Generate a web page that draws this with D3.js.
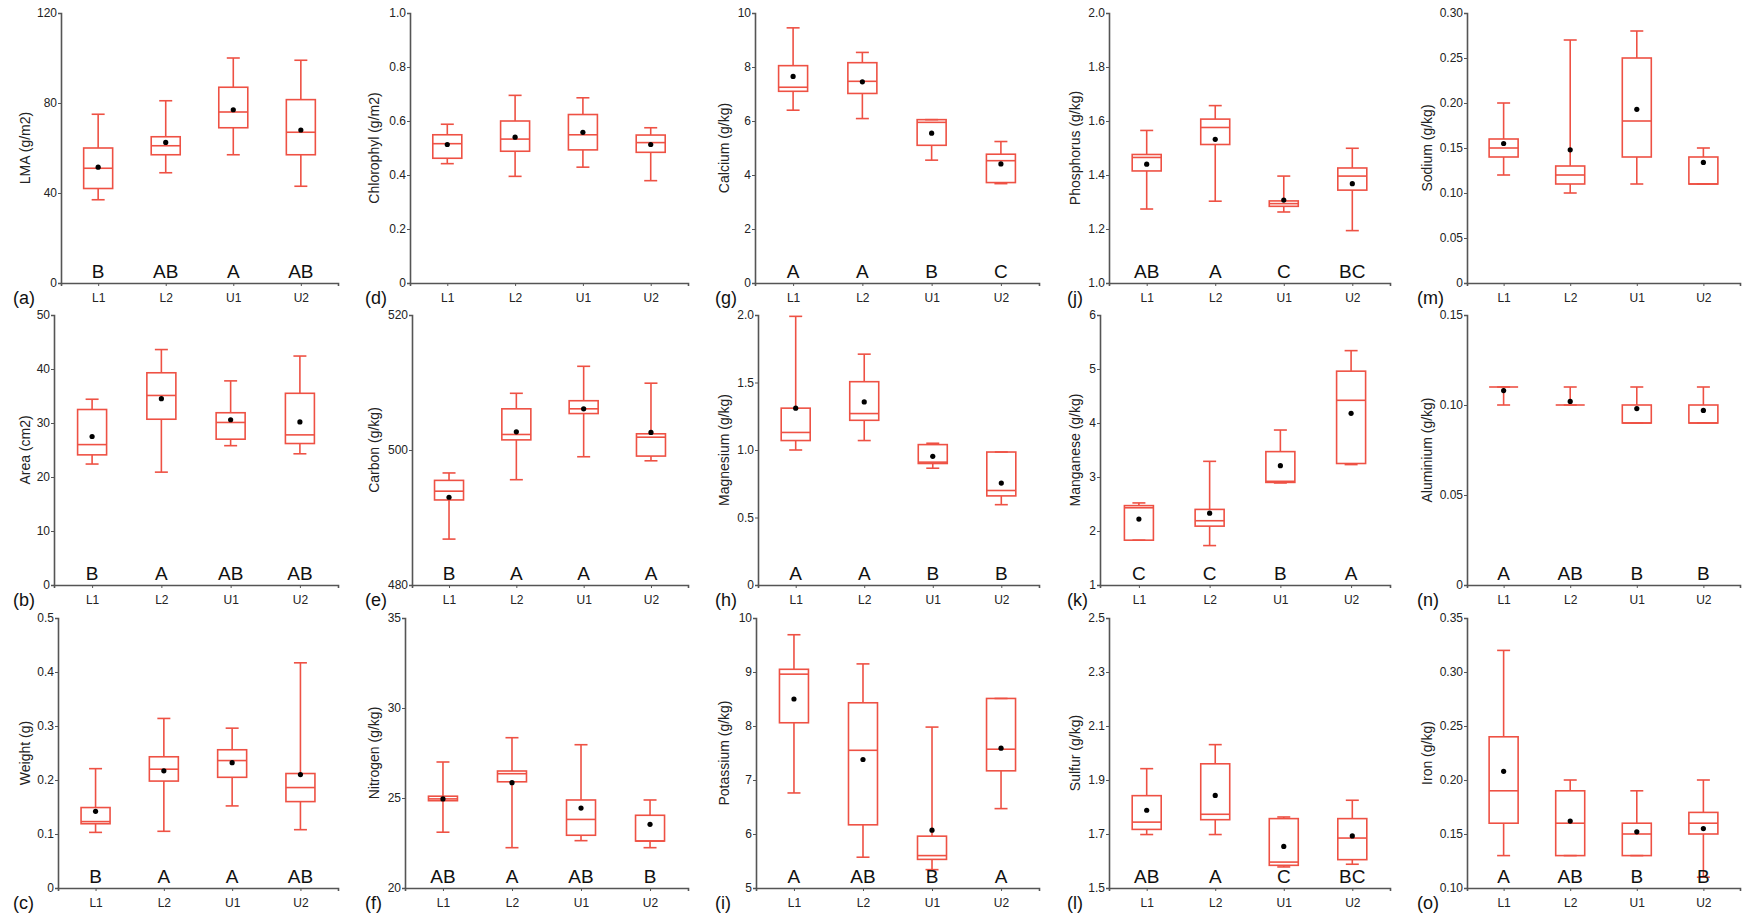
<!DOCTYPE html>
<html><head><meta charset="utf-8">
<script src="https://cdn.jsdelivr.net/npm/d3@7"></script>
<style>
body{margin:0;background:#fff}
text{font-family:"Liberation Sans",Arial,Helvetica,sans-serif}
</style>
</head><body>
<svg id="chart" width="1747" height="916"></svg>
<script>
// ---------------- DATA ----------------
const categories = ["L1","L2","U1","U2"];
const panelTags = ["a","b","c","d","e","f","g","h","i","j","k","l","m","n","o"];
const yTitles = ["LMA (g/m2)","Area (cm2)","Weight (g)",
  "Chlorophyl (g/m2)","Carbon (g/kg)","Nitrogen (g/kg)",
  "Calcium (g/kg)","Magnesium (g/kg)","Potassium (g/kg)",
  "Phosphorus (g/kg)","Manganese (g/kg)","Sulfur (g/kg)",
  "Sodium (g/kg)","Aluminium (g/kg)","Iron (g/kg)"];
const yDomains = [[0,120],[0,50],[0,0.5],[0,1],[480,520],[20,35],[0,10],[0,2],[5,10],[1,2],[1,6],[1.5,2.5],[0,0.3],[0,0.15],[0.1,0.35]];
const yTickValues = [
  [0,40,80,120],[0,10,20,30,40,50],[0,0.1,0.2,0.3,0.4,0.5],
  [0,0.2,0.4,0.6,0.8,1.0],[480,500,520],[20,25,30,35],
  [0,2,4,6,8,10],[0,0.5,1.0,1.5,2.0],[5,6,7,8,9,10],
  [1.0,1.2,1.4,1.6,1.8,2.0],[1,2,3,4,5,6],[1.5,1.7,1.9,2.1,2.3,2.5],
  [0,0.05,0.10,0.15,0.20,0.25,0.30],[0,0.05,0.10,0.15],[0.10,0.15,0.20,0.25,0.30,0.35]];
const yTickLabels = [
  ["0","40","80","120"],["0","10","20","30","40","50"],["0","0.1","0.2","0.3","0.4","0.5"],
  ["0","0.2","0.4","0.6","0.8","1.0"],["480","500","520"],["20","25","30","35"],
  ["0","2","4","6","8","10"],["0","0.5","1.0","1.5","2.0"],["5","6","7","8","9","10"],
  ["1.0","1.2","1.4","1.6","1.8","2.0"],["1","2","3","4","5","6"],["1.5","1.7","1.9","2.1","2.3","2.5"],
  ["0","0.05","0.10","0.15","0.20","0.25","0.30"],["0","0.05","0.10","0.15"],["0.10","0.15","0.20","0.25","0.30","0.35"]];
const groupLetters = [
  ["B","AB","A","AB"],["B","A","AB","AB"],["B","A","A","AB"],
  [],["B","A","A","A"],["AB","A","AB","B"],
  ["A","A","B","C"],["A","A","B","B"],["A","AB","B","A"],
  ["AB","A","C","BC"],["C","C","B","A"],["AB","A","C","BC"],
  [],["A","AB","B","B"],["A","AB","B","B"]];

// box statistics per category: [min, q1, median, q3, max]
const lmaBox = [[37,42,51,60,75],[49,57,61,65,81],[57,69,76,87,100],[43,57,67,81.5,99]];
const lmaMean = [51.5,62.5,77,68];
const areaBox = [[22.4,24.1,26.0,32.5,34.4],[20.9,30.7,35.1,39.3,43.6],[25.8,27.0,30.1,31.9,37.8],[24.3,26.2,27.8,35.5,42.4]];
const areaMean = [27.5,34.5,30.6,30.2];
const weightBox = [[0.103,0.119,0.123,0.149,0.221],[0.105,0.198,0.220,0.243,0.314],[0.152,0.205,0.236,0.256,0.296],[0.108,0.160,0.186,0.212,0.417]];
const weightMean = [0.142,0.217,0.232,0.210];
const chlBox = [[0.442,0.462,0.516,0.549,0.588],[0.395,0.488,0.533,0.600,0.695],[0.429,0.493,0.549,0.624,0.686],[0.379,0.484,0.520,0.548,0.575]];
const chlMean = [0.513,0.540,0.558,0.513];
const carbonBox = [[486.8,492.6,493.9,495.5,496.6],[495.6,501.5,502.3,506.1,508.4],[499.0,505.4,506.1,507.3,512.4],[498.4,499.1,501.9,502.4,509.9]];
const carbonMean = [493.0,502.7,506.1,502.6];
const nitrogenBox = [[23.1,24.85,24.95,25.1,27.0],[22.24,25.9,26.35,26.5,28.35],[22.63,22.93,23.81,24.89,27.96],[22.24,22.61,22.61,24.04,24.89]];
const nitrogenMean = [24.95,25.85,24.44,23.54];
const calciumBox = [[6.4,7.1,7.25,8.05,9.45],[6.09,7.02,7.47,8.16,8.54],[4.55,5.1,5.95,6.05,6.05],[3.68,3.72,4.53,4.77,5.24]];
const calciumMean = [7.65,7.45,5.55,4.41];
const magnesiumBox = [[1.0,1.07,1.13,1.31,1.99],[1.07,1.22,1.27,1.506,1.71],[0.865,0.9,0.91,1.04,1.05],[0.595,0.66,0.70,0.985,0.985]];
const magnesiumMean = [1.31,1.356,0.953,0.755];
const potassiumBox = [[6.76,8.06,8.96,9.05,9.69],[5.57,6.17,7.55,8.43,9.15],[5.34,5.53,5.60,5.96,7.98],[6.47,7.17,7.57,8.51,8.51]];
const potassiumMean = [8.50,7.38,6.07,7.59];
const phosphorusBox = [[1.274,1.415,1.465,1.476,1.565],[1.303,1.513,1.576,1.607,1.657],[1.263,1.284,1.294,1.304,1.396],[1.194,1.344,1.396,1.426,1.499]];
const phosphorusMean = [1.44,1.532,1.307,1.368];
const manganeseBox = [[1.83,1.83,2.43,2.47,2.52],[1.73,2.09,2.19,2.40,3.29],[2.89,2.90,2.92,3.47,3.87],[3.23,3.25,4.42,4.96,5.34]];
const manganeseMean = [2.22,2.33,3.21,4.18];
const sulfurBox = [[1.698,1.717,1.744,1.842,1.942],[1.698,1.753,1.773,1.960,2.031],[1.578,1.584,1.596,1.757,1.763],[1.588,1.605,1.685,1.757,1.825]];
const sulfurMean = [1.788,1.843,1.654,1.693];
const sodiumBox = [[0.12,0.14,0.15,0.16,0.20],[0.10,0.11,0.12,0.13,0.27],[0.11,0.14,0.18,0.25,0.28],[0.11,0.11,0.11,0.14,0.15]];
const sodiumMean = [0.155,0.148,0.193,0.134];
const aluminiumBox = [[0.10,0.11,0.11,0.11,0.11],[0.10,0.10,0.10,0.10,0.11],[0.09,0.09,0.09,0.10,0.11],[0.09,0.09,0.09,0.10,0.11]];
const aluminiumMean = [0.108,0.102,0.098,0.097];
const ironBox = [[0.13,0.16,0.19,0.24,0.32],[0.13,0.13,0.16,0.19,0.20],[0.13,0.13,0.15,0.16,0.19],[0.11,0.15,0.16,0.17,0.20]];
const ironMean = [0.208,0.162,0.152,0.155];

const boxSeries = [lmaBox,areaBox,weightBox,chlBox,carbonBox,nitrogenBox,calciumBox,magnesiumBox,potassiumBox,
  phosphorusBox,manganeseBox,sulfurBox,sodiumBox,aluminiumBox,ironBox];
const meanSeries = [lmaMean,areaMean,weightMean,chlMean,carbonMean,nitrogenMean,calciumMean,magnesiumMean,potassiumMean,
  phosphorusMean,manganeseMean,sulfurMean,sodiumMean,aluminiumMean,ironMean];

// ---------------- LAYOUT ----------------
const rowTop = [13,315,618], rowBottom = [283,585,888];
const colRight = [338,688,1039,1390,1740];
const axisLeftX = [[61,54,58],[410,412,405],[755,758,756],[1109,1100,1109],[1467,1467,1467]];
const titleX = [25,374,724,1075,1427];
const tagX = [13,365,715,1067,1417];
const RED = "#ee5144", AXIS = "#555", TXT = "#222";
const boxW = 29, capW = 13;

const svg = d3.select("#chart");

panelTags.forEach((tag, p) => {
  const col = Math.floor(p/3), row = p%3;
  const x0 = axisLeftX[col][row], x1 = colRight[col];
  const yT = rowTop[row], yB = rowBottom[row];
  const g = svg.append("g");
  const x = d3.scalePoint().domain(categories).range([x0, x1]).padding(0.55);
  const y = d3.scaleLinear().domain(yDomains[p]).range([yB, yT]);

  // y axis
  const ya = g.append("g").attr("transform",`translate(${x0},0)`)
    .call(d3.axisLeft(y).tickValues(yTickValues[p]).tickSizeOuter(0).tickSize(3).tickPadding(1)
      .tickFormat((d,i)=>yTickLabels[p][i]));
  ya.select(".domain").attr("stroke",AXIS).attr("stroke-width",1.6);
  ya.selectAll(".tick line").attr("stroke",AXIS);
  ya.selectAll(".tick text").attr("fill",TXT).attr("font-size",12).attr("font-family",'"Liberation Sans",Arial,sans-serif');

  // x axis
  const xa = g.append("g").attr("transform",`translate(0,${yB})`)
    .call(d3.axisBottom(x).tickSizeOuter(0).tickSize(3).tickPadding(7));
  xa.select(".domain").attr("stroke",AXIS).attr("stroke-width",1.6);
  xa.selectAll(".tick line").attr("stroke",AXIS);
  xa.selectAll(".tick text").attr("fill",TXT).attr("font-size",12).attr("font-family",'"Liberation Sans",Arial,sans-serif');

  // boxes
  const data = boxSeries[p].map((s,i)=>({cat:categories[i], s, mean:meanSeries[p][i]}));
  const bx = g.selectAll("g.box").data(data).enter().append("g").attr("class","box")
    .attr("fill","none").attr("stroke",RED).attr("stroke-width",1.6);
  bx.append("line").attr("x1",d=>x(d.cat)).attr("x2",d=>x(d.cat)).attr("y1",d=>y(d.s[0])).attr("y2",d=>y(d.s[1]));
  bx.append("line").attr("x1",d=>x(d.cat)).attr("x2",d=>x(d.cat)).attr("y1",d=>y(d.s[3])).attr("y2",d=>y(d.s[4]));
  bx.append("line").attr("x1",d=>x(d.cat)-capW/2).attr("x2",d=>x(d.cat)+capW/2).attr("y1",d=>y(d.s[0])).attr("y2",d=>y(d.s[0]));
  bx.append("line").attr("x1",d=>x(d.cat)-capW/2).attr("x2",d=>x(d.cat)+capW/2).attr("y1",d=>y(d.s[4])).attr("y2",d=>y(d.s[4]));
  bx.append("rect").attr("x",d=>x(d.cat)-boxW/2).attr("width",boxW)
    .attr("y",d=>y(d.s[3])).attr("height",d=>Math.max(0,y(d.s[1])-y(d.s[3])));
  bx.append("line").attr("x1",d=>x(d.cat)-boxW/2).attr("x2",d=>x(d.cat)+boxW/2).attr("y1",d=>y(d.s[2])).attr("y2",d=>y(d.s[2]));
  g.selectAll("circle.mean").data(data).enter().append("circle").attr("class","mean")
    .attr("cx",d=>x(d.cat)).attr("cy",d=>y(d.mean)).attr("r",2.6).attr("fill","#000");

  // group letters
  g.selectAll("text.grp").data(groupLetters[p]).enter().append("text").attr("class","grp")
    .attr("x",(d,i)=>x(categories[i])).attr("y",yB-5).attr("text-anchor","middle")
    .attr("font-size",19).attr("fill","#111").text(d=>d);

  // y title
  g.append("text").attr("transform",`translate(${titleX[col]},${(yT+yB)/2}) rotate(-90)`)
    .attr("text-anchor","middle").attr("dy","0.35em").attr("font-size",14).attr("fill",TXT).text(yTitles[p]);

  // panel tag
  g.append("text").attr("x",tagX[col]).attr("y",yB+21).attr("font-size",18).attr("fill","#111").text(`(${tag})`);
});
</script>
</body></html>
